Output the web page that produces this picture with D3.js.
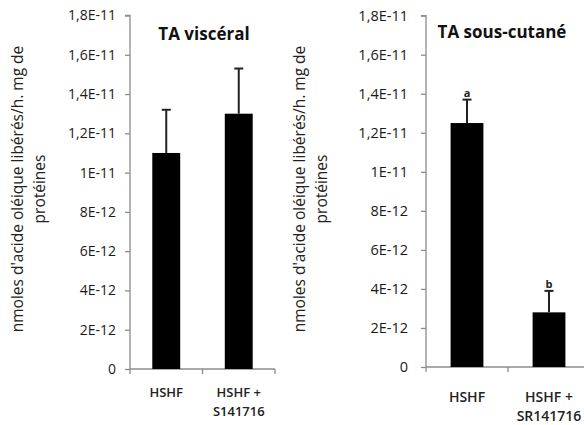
<!DOCTYPE html>
<html>
<head>
<meta charset="utf-8">
<script src="https://cdn.jsdelivr.net/npm/d3@7"></script>
<style>
  body { margin: 0; background: #fff; }
  svg { display: block; }
  text { font-family: "Open Sans", "Liberation Sans", Arial, sans-serif; fill: #1a1a1a; }
</style>
</head>
<body>
<svg id="chart" width="584" height="425"></svg>
<script>
// Lipolyse : acide oléique libéré par le tissu adipeux
const tickValues = [0, 2e-12, 4e-12, 6e-12, 8e-12, 1e-11, 1.2e-11, 1.4e-11, 1.6e-11, 1.8e-11];
const tickLabels = ["0", "2E-12", "4E-12", "6E-12", "8E-12", "1E-11", "1,2E-11", "1,4E-11", "1,6E-11", "1,8E-11"];

const categoriesVisceral = [["HSHF"], ["HSHF +", "S141716"]];
const valuesVisceral = [1.10e-11, 1.30e-11];
const errorsVisceral = [0.22e-11, 0.23e-11];

const categoriesSousCutane = [["HSHF"], ["HSHF +", "SR141716"]];
const valuesSousCutane = [1.25e-11, 0.28e-11];
const errorsSousCutane = [0.12e-11, 0.11e-11];
const lettersSousCutane = ["a", "b"];

const yLabelLines = ["nmoles d'acide oléique libérés/h. mg de", "protéines"];

const svg = d3.select("#chart");

function panel(opts) {
  const g = svg.append("g");
  const y = d3.scaleLinear().domain([0, 1.8e-11]).range([opts.y0, opts.y1]);
  const x = d3.scaleBand().domain(d3.range(opts.values.length)).range([opts.x0, opts.x1]);
  const barW = x.bandwidth() * opts.barFrac;

  // y axis
  const ya = g.append("g").attr("transform", `translate(${opts.x0},0)`)
    .call(d3.axisLeft(y).tickValues(tickValues).tickSize(5).tickPadding(opts.tickPad)
      .tickFormat((d, i) => tickLabels[i]));
  ya.attr("font-size", null).attr("font-family", null);
  ya.select(".domain").attr("stroke", "#8c8c8c").attr("stroke-width", 1.3).attr("d", `M-5,${opts.y1}H0V${opts.y0}`);
  ya.selectAll(".tick line").attr("stroke", "#8c8c8c").attr("stroke-width", 1.3);
  ya.selectAll(".tick text").style("font-size", opts.tickFont + "px").style("fill", "#1a1a1a");

  // x axis
  const xa = g.append("g");
  xa.append("line").attr("x1", opts.x0).attr("x2", opts.x1).attr("y1", opts.y0).attr("y2", opts.y0)
    .attr("stroke", "#8c8c8c").attr("stroke-width", 1.3);
  const edges = x.domain().map(d => x(d)).concat([opts.x1]);
  xa.selectAll("line.tk").data(edges).join("line").attr("class", "tk")
    .attr("x1", d => d).attr("x2", d => d).attr("y1", opts.y0).attr("y2", opts.y0 + 5)
    .attr("stroke", "#8c8c8c").attr("stroke-width", 1.3);
  opts.categories.forEach((lines, i) => {
    lines.forEach((t, j) => {
      xa.append("text").attr("x", x(i) + x.bandwidth() / 2).attr("y", opts.catY + j * opts.catLine)
        .attr("text-anchor", "middle").style("font-size", opts.catFont + "px").attr("font-weight", 600)
        .style("fill", "#222").text(t);
    });
  });

  // bars
  g.selectAll("rect.bar").data(opts.values).join("rect").attr("class", "bar")
    .attr("x", (d, i) => x(i) + (x.bandwidth() - barW) / 2)
    .attr("width", barW)
    .attr("y", d => y(d)).attr("height", d => y(0) - y(d))
    .attr("fill", "#000");

  // error bars (upper only)
  opts.values.forEach((v, i) => {
    const cx = x(i) + x.bandwidth() / 2;
    const top = y(v + opts.errors[i]);
    g.append("line").attr("x1", cx).attr("x2", cx).attr("y1", y(v)).attr("y2", top)
      .attr("stroke", "#222").attr("stroke-width", 2);
    g.append("line").attr("x1", cx - 4.5).attr("x2", cx + 4.5).attr("y1", top).attr("y2", top)
      .attr("stroke", "#222").attr("stroke-width", 2);
    if (opts.letters) {
      g.append("text").attr("x", cx).attr("y", top - 3).attr("text-anchor", "middle")
        .style("font-size", opts.letterFont + "px").attr("font-weight", 700).style("fill", "#222")
        .text(opts.letters[i]);
    }
  });

  // title
  g.append("text").attr("x", opts.titleX).attr("y", opts.titleY).attr("text-anchor", "middle")
    .style("font-size", opts.titleFont + "px").attr("font-weight", 700).style("fill", "#111").text(opts.title);

  // y label
  yLabelLines.forEach((t, j) => {
    g.append("text")
      .attr("transform", `translate(${opts.labelX + j * opts.labelLine},${opts.labelY}) rotate(-90)`)
      .attr("text-anchor", "middle").style("font-size", opts.labelFont + "px").style("fill", "#222")
      .text(t);
  });
}

panel({
  values: valuesVisceral, errors: errorsVisceral, categories: categoriesVisceral,
  x0: 130, x1: 275, y0: 369, y1: 15.5, barFrac: 0.385,
  tickFont: 14, tickPad: 9, catY: 397, catLine: 19, catFont: 13,
  title: "TA viscéral", titleX: 204, titleY: 40, titleFont: 17,
  labelX: 23, labelLine: 22, labelY: 189, labelFont: 15.5
});

panel({
  values: valuesSousCutane, errors: errorsSousCutane, categories: categoriesSousCutane,
  letters: lettersSousCutane, letterFont: 11,
  x0: 426, x1: 590, y0: 367, y1: 15.7, barFrac: 0.4,
  tickFont: 14.5, tickPad: 13, catY: 402, catLine: 19, catFont: 14,
  title: "TA sous-cutané", titleX: 502, titleY: 38, titleFont: 17,
  labelX: 305, labelLine: 22, labelY: 189, labelFont: 15.5
});
</script>
</body>
</html>
